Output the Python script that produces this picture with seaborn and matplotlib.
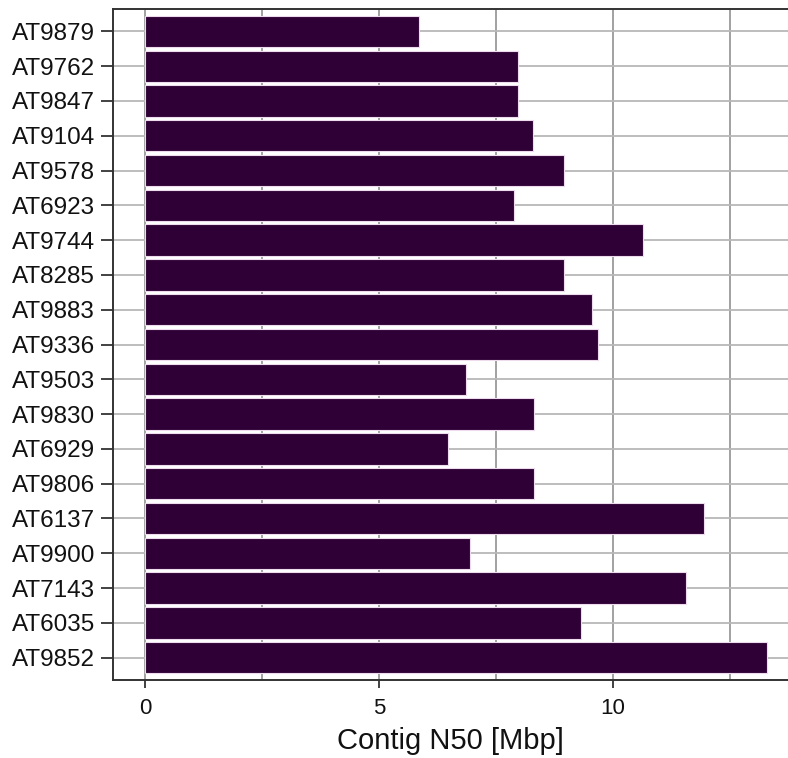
import matplotlib
matplotlib.use("Agg")
import matplotlib.pyplot as plt
import seaborn as sns
import pandas as pd
from matplotlib.ticker import MultipleLocator

# Contig N50 per accession (Mbp)
accessions = ["AT9879", "AT9762", "AT9847", "AT9104", "AT9578", "AT6923",
              "AT9744", "AT8285", "AT9883", "AT9336", "AT9503", "AT9830",
              "AT6929", "AT9806", "AT6137", "AT9900", "AT7143", "AT6035",
              "AT9852"]
n50_mbp = [5.85, 7.97, 7.97, 8.29, 8.95, 7.88, 10.64, 8.95, 9.55, 9.68,
           6.86, 8.31, 6.47, 8.31, 11.94, 6.94, 11.56, 9.32, 13.29]
x_ticks = [0, 5, 10]

df = pd.DataFrame({"accession": accessions, "n50": n50_mbp})

sns.set_theme(style="white")
plt.rcParams["font.family"] = ["Liberation Sans", "DejaVu Sans"]

fig = plt.figure(figsize=(7.88, 7.58), dpi=100)
ax = fig.add_axes([0.1434, 0.103, 0.8566, 0.885])

sns.barplot(data=df, x="n50", y="accession", orient="y", color="#2e0035",
            saturation=1, width=0.9, edgecolor="#eedcee", linewidth=0.8,
            ax=ax, zorder=3)

ax.set_xlim(-0.68, 13.74)
ax.set_ylim(18.64, -0.64)
ax.set_xticks(x_ticks)
ax.xaxis.set_minor_locator(MultipleLocator(2.5))
ax.grid(True, which="both", axis="x", color="#9a9a9a", linewidth=1.3, zorder=0)
ax.grid(True, which="major", axis="y", color="#b8b8b8", linewidth=1.3, zorder=0)
ax.set_axisbelow(True)

for side in ["left", "bottom", "top"]:
    ax.spines[side].set_visible(True)
    ax.spines[side].set_color("#333333")
    ax.spines[side].set_linewidth(1.4)
ax.spines["right"].set_visible(False)

ax.tick_params(axis="y", which="major", direction="out", length=9, width=1.3,
               color="#333333", labelsize=17.5, pad=4, left=True,
               labelcolor="#111111")
ax.tick_params(axis="x", which="major", direction="out", length=6, width=1.3,
               color="#333333", labelsize=16, pad=7, bottom=True,
               labelcolor="#111111")
ax.tick_params(axis="x", which="minor", length=0)
ax.set_ylabel("")
ax.set_xlabel("Contig N50 [Mbp]", fontsize=21, labelpad=6, color="#111111")

fig.savefig("out.png", dpi=100)
